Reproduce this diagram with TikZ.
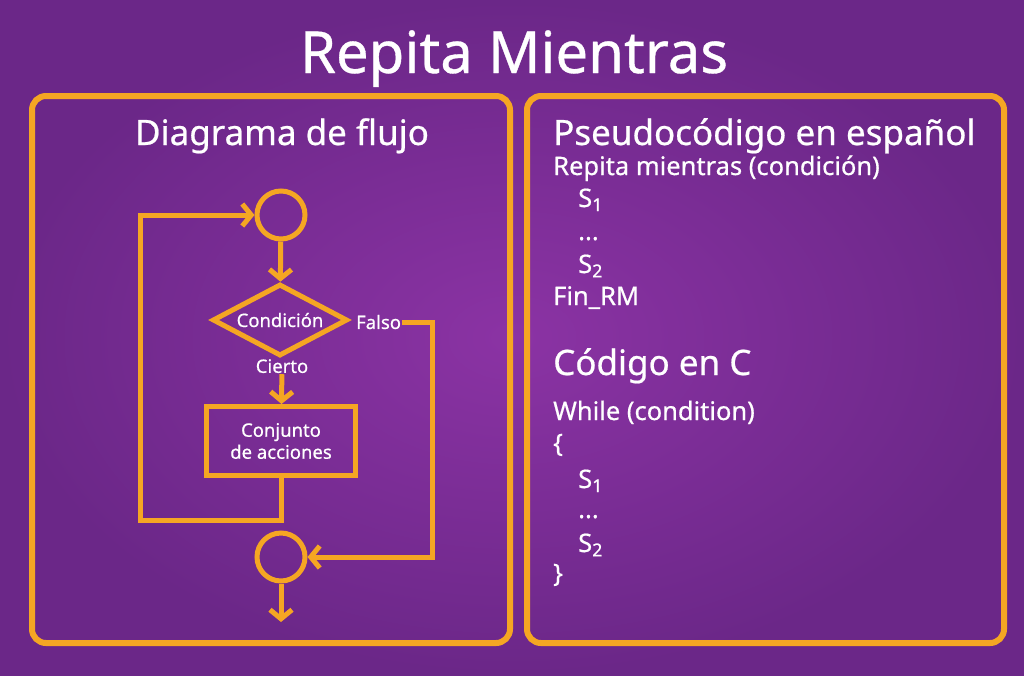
\documentclass[tikz,border=0pt]{standalone}
\usepackage{fontspec}
\setmainfont{Noto Sans}[FakeBold=0.6]
\usetikzlibrary{shapes.geometric, arrows.meta, positioning}
\definecolor{naranja}{HTML}{F5A623}
\definecolor{moradoin}{HTML}{8B33A4}
\definecolor{moradoout}{HTML}{6B2788}

\begin{document}
\begin{tikzpicture}[x=1pt,y=-1pt,
    linea/.style={naranja, line width=5pt},
    flecha/.style={linea, -{Straight Barb[length=9pt,width=22pt]}},
    circulo/.style={linea, draw, circle, minimum size=48pt, inner sep=0pt},
    etiqueta/.style={text=white, inner sep=1pt, font=\fontsize{18.5}{22}\selectfont},
    texto/.style={text=white, inner sep=0pt, anchor=base west, font=\fontsize{25.5}{28}\selectfont},
    titular/.style={text=white, inner sep=0pt, font=\fontsize{35}{38}\selectfont}]
    \useasboundingbox (0,0) rectangle (1024,675);
    \fill[inner color=moradoin, outer color=moradoout] (0,0) rectangle (1024,675);

    \node (titulo) [text=white, inner sep=0pt, anchor=base, font=\fontsize{58}{60}\selectfont] at (514,73) {Repita Mientras};
    \draw[linea, line width=6pt, rounded corners=14pt] (32,96) rectangle (510,643);
    \draw[linea, line width=6pt, rounded corners=14pt] (527,96) rectangle (1004,643);

    % diagrama de flujo
    \node (diagrama) [titular, anchor=base] at (282,145) {Diagrama de flujo};
    \node (inicio) [circulo] at (281,215) {};
    \node (cond) [linea, draw, diamond, aspect=1.9, minimum width=135pt, minimum height=72pt, inner sep=0pt, etiqueta] at (280,320) {Condición};
    \node (falso) [etiqueta, anchor=west] at (355,322) {Falso};
    \node (cierto) [etiqueta, anchor=north] at (282,358) {Cierto};
    \node (acciones) [linea, draw, minimum width=149pt, minimum height=69pt, align=center, etiqueta] at (281,441) {Conjunto\\de acciones};
    \node (fin) [circulo] at (281,557) {};
    \coordinate (esquina) at (432,322);
    \coordinate (vuelta) at (140,520);
    \coordinate (salida) at (281,622);

    \draw[flecha] (inicio) -- (cond);
    \draw[flecha] (cierto) -- (acciones);
    \draw[flecha] (falso) -- (esquina) |- (fin);
    \draw[flecha] (acciones) |- (vuelta) |- (inicio);
    \draw[flecha] (fin) -- (salida);

    % pseudocodigo
    \node (pseudo) [titular, anchor=base west] at (553,145) {Pseudocódigo en español};
    \node (repita) [texto] at (553,175) {Repita mientras (condición)};
    \node (ps1) [texto] at (578,207) {S\textsubscript{1}};
    \node (pspuntos) [texto] at (578,240) {...};
    \node (ps2) [texto] at (578,273) {S\textsubscript{2}};
    \node (finrm) [texto] at (553,305) {Fin\_RM};

    % codigo en C
    \node (codigo) [titular, anchor=base west] at (553,375) {Código en C};
    \node (while) [texto] at (553,420) {While (condition)};
    \node (abre) [texto] at (553,452) {\{};
    \node (cs1) [texto] at (578,488) {S\textsubscript{1}};
    \node (cspuntos) [texto] at (578,518) {...};
    \node (cs2) [texto] at (578,552) {S\textsubscript{2}};
    \node (cierra) [texto] at (553,582) {\}};
\end{tikzpicture}
\end{document}
